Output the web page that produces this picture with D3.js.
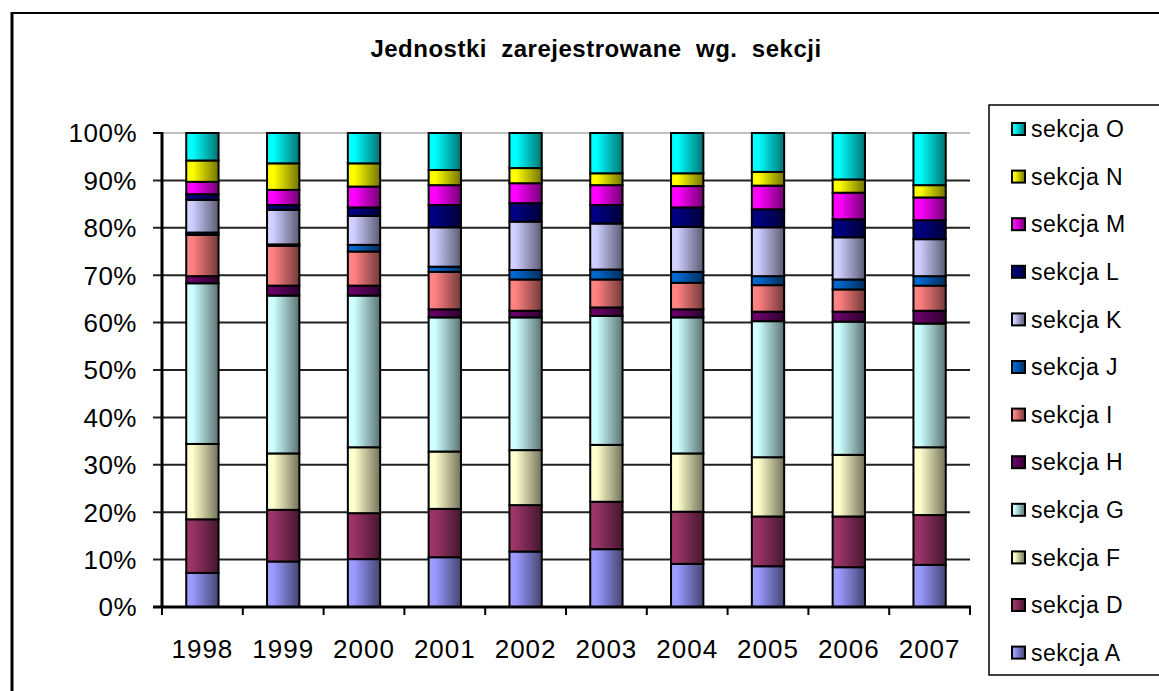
<!DOCTYPE html>
<html>
<head>
<meta charset="utf-8">
<script src="https://cdn.jsdelivr.net/npm/d3@7"></script>
<style>
  body { margin: 0; background: #fff; }
  text { font-family: "Liberation Sans", Arial, sans-serif; }
</style>
</head>
<body>
<svg id="chart" width="1159" height="691"></svg>
<script>
// lata
var years = ['1998', '1999', '2000', '2001', '2002', '2003', '2004', '2005', '2006', '2007'];

// udział sekcji (%)
var sekcjaA = [7.2, 9.6, 10.1, 10.5, 11.7, 12.2, 9.1, 8.6, 8.4, 8.9];
var sekcjaD = [11.3, 10.9, 9.7, 10.2, 9.8, 10.0, 11.0, 10.5, 10.7, 10.5];
var sekcjaF = [15.9, 11.9, 13.9, 12.1, 11.6, 12.0, 12.3, 12.5, 13.0, 14.3];
var sekcjaG = [33.9, 33.3, 32.0, 28.3, 28.0, 27.2, 28.7, 28.7, 28.1, 26.1];
var sekcjaH = [1.5, 2.1, 2.1, 1.7, 1.4, 1.8, 1.7, 2.0, 2.1, 2.7];
var sekcjaI = [8.7, 8.4, 7.2, 7.9, 6.6, 5.9, 5.6, 5.6, 4.7, 5.3];
var sekcjaJ = [0.5, 0.3, 1.4, 1.1, 2.0, 2.1, 2.3, 1.9, 2.1, 2.0];
var sekcjaK = [6.9, 7.3, 6.1, 8.3, 10.2, 9.7, 9.5, 10.3, 8.9, 7.8];
var sekcjaL = [1.2, 1.0, 1.8, 4.7, 3.9, 3.9, 4.1, 3.8, 3.8, 4.0];
var sekcjaM = [2.6, 3.2, 4.4, 4.2, 4.2, 4.2, 4.5, 5.0, 5.6, 4.8];
var sekcjaN = [4.5, 5.6, 4.9, 3.2, 3.2, 2.5, 2.7, 2.9, 2.8, 2.6];
var sekcjaO = [5.8, 6.4, 6.4, 7.8, 7.4, 8.5, 8.5, 8.2, 9.8, 11.0];

var seriesNames = ['sekcja A', 'sekcja D', 'sekcja F', 'sekcja G', 'sekcja H', 'sekcja I',
                   'sekcja J', 'sekcja K', 'sekcja L', 'sekcja M', 'sekcja N', 'sekcja O'];
var seriesValues = [sekcjaA, sekcjaD, sekcjaF, sekcjaG, sekcjaH, sekcjaI,
                    sekcjaJ, sekcjaK, sekcjaL, sekcjaM, sekcjaN, sekcjaO];
var seriesColors = ['#9999FF', '#993366', '#FFFFCC', '#CCFFFF', '#660066', '#FF8080',
                    '#0066CC', '#CCCCFF', '#000080', '#FF00FF', '#FFFF00', '#00FFFF'];
var yTicks = [0, 0.1, 0.2, 0.3, 0.4, 0.5, 0.6, 0.7, 0.8, 0.9, 1];

var svg = d3.select('#chart');

// ramka wykresu
svg.append('line')
  .attr('x1', 12).attr('x2', 1159).attr('y1', 13).attr('y2', 13)
  .attr('stroke', '#000').attr('stroke-width', 2);
svg.append('line')
  .attr('x1', 12).attr('x2', 12).attr('y1', 12).attr('y2', 691)
  .attr('stroke', '#000').attr('stroke-width', 3);

svg.append('text')
  .attr('x', 596)
  .attr('y', 57)
  .attr('text-anchor', 'middle')
  .attr('font-size', '24px')
  .attr('font-weight', 'bold')
  .attr('letter-spacing', '0.5px')
  .attr('xml:space', 'preserve')
  .style('white-space', 'pre')
  .text('Jednostki  zarejestrowane  wg.  sekcji');

var plot = { left: 162, right: 970, top: 133, bottom: 607 };

var x = d3.scaleBand()
  .domain(years)
  .range([plot.left, plot.right])
  .paddingInner(0.6)
  .paddingOuter(0.3);

var y = d3.scaleLinear()
  .domain([0, 1])
  .range([plot.bottom, plot.top]);

// gradienty "3D"
var defs = svg.append('defs');
seriesColors.forEach(function(c, i) {
  var base = d3.rgb(c);
  var dark = d3.rgb(base.r * 0.45, base.g * 0.45, base.b * 0.45);
  var g = defs.append('linearGradient')
    .attr('id', 'grad' + i)
    .attr('x1', '0%').attr('x2', '100%').attr('y1', '0%').attr('y2', '0%');
  g.append('stop').attr('offset', '0%').attr('stop-color', base.brighter(0.15));
  g.append('stop').attr('offset', '20%').attr('stop-color', base);
  g.append('stop').attr('offset', '100%').attr('stop-color', dark);
});

// linie siatki
svg.append('g')
  .selectAll('line')
  .data(yTicks)
  .enter()
  .append('line')
  .attr('x1', plot.left - 9)
  .attr('x2', plot.right)
  .attr('y1', function(d) { return y(d); })
  .attr('y2', function(d) { return y(d); })
  .attr('stroke', function(d) { return d === 1 ? '#c0c0c0' : '#222'; })
  .attr('stroke-width', 2);

svg.append('line')
  .attr('x1', plot.left - 9).attr('x2', plot.left)
  .attr('y1', y(1)).attr('y2', y(1))
  .attr('stroke', '#000').attr('stroke-width', 2);

svg.append('g')
  .selectAll('text')
  .data(yTicks)
  .enter()
  .append('text')
  .attr('x', 137)
  .attr('y', function(d) { return y(d); })
  .attr('dy', '0.36em')
  .attr('text-anchor', 'end')
  .attr('font-size', '26px')
  .attr('letter-spacing', '0.5px')
  .text(function(d) { return d3.format('.0%')(d); });

// słupki
var table = years.map(function(yr, i) {
  var row = { year: yr };
  seriesNames.forEach(function(n, s) { row[n] = seriesValues[s][i]; });
  return row;
});

var stack = d3.stack()
  .keys(seriesNames)
  .offset(d3.stackOffsetExpand);

var layers = svg.append('g')
  .selectAll('g')
  .data(stack(table))
  .enter()
  .append('g')
  .attr('fill', function(d, i) { return 'url(#grad' + i + ')'; });

layers.selectAll('rect')
  .data(function(d) { return d; })
  .enter()
  .append('rect')
  .attr('x', function(d) { return x(d.data.year); })
  .attr('width', x.bandwidth())
  .attr('y', function(d) { return y(d[1]); })
  .attr('height', function(d) { return y(d[0]) - y(d[1]); })
  .attr('stroke', '#000')
  .attr('stroke-width', 2);

// osie
svg.append('line')
  .attr('x1', plot.left).attr('x2', plot.left)
  .attr('y1', plot.top - 1).attr('y2', plot.bottom + 1)
  .attr('stroke', '#000').attr('stroke-width', 3);
svg.append('line')
  .attr('x1', plot.left - 9).attr('x2', plot.right + 1)
  .attr('y1', plot.bottom).attr('y2', plot.bottom)
  .attr('stroke', '#000').attr('stroke-width', 3);

var step = x.step();
svg.append('g')
  .selectAll('line')
  .data(d3.range(years.length + 1))
  .enter()
  .append('line')
  .attr('x1', function(d) { return plot.left + d * step; })
  .attr('x2', function(d) { return plot.left + d * step; })
  .attr('y1', plot.bottom)
  .attr('y2', plot.bottom + 8)
  .attr('stroke', '#000')
  .attr('stroke-width', 2);

svg.append('g')
  .selectAll('text')
  .data(years)
  .enter()
  .append('text')
  .attr('x', function(d) { return x(d) + x.bandwidth() / 2; })
  .attr('y', 658)
  .attr('text-anchor', 'middle')
  .attr('font-size', '26px')
  .attr('letter-spacing', '1px')
  .text(function(d) { return d; });

// legenda
var legend = svg.append('g');
legend.append('rect')
  .attr('x', 989).attr('y', 105)
  .attr('width', 200).attr('height', 570)
  .attr('fill', '#fff')
  .attr('stroke', '#000')
  .attr('stroke-width', 1.5);

var legendOrder = d3.range(seriesNames.length).reverse();
var items = legend.selectAll('g.item')
  .data(legendOrder)
  .enter()
  .append('g')
  .attr('class', 'item')
  .attr('transform', function(d, i) { return 'translate(1012,' + (129 + i * 47.6) + ')'; });

items.append('rect')
  .attr('x', 0).attr('y', -6)
  .attr('width', 13).attr('height', 12)
  .attr('fill', function(d) { return 'url(#grad' + d + ')'; })
  .attr('stroke', '#000')
  .attr('stroke-width', 2);

items.append('text')
  .attr('x', 19)
  .attr('y', 0)
  .attr('dy', '0.36em')
  .attr('font-size', '23px')
  .attr('letter-spacing', '0.5px')
  .text(function(d) { return seriesNames[d]; });
</script>
</body>
</html>
